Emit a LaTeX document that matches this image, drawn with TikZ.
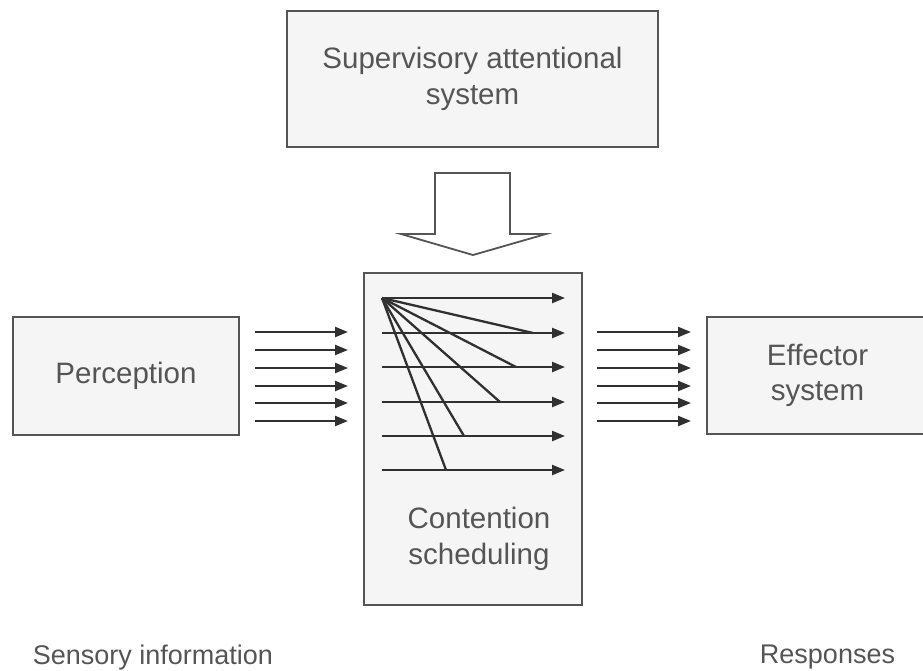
\documentclass[tikz,border=0pt]{standalone}
\usepackage{fontspec}
\setmainfont{Liberation Sans}
\usetikzlibrary{arrows.meta}

\definecolor{borda}{HTML}{555555}
\definecolor{fundo}{HTML}{F5F5F5}
\definecolor{texto}{HTML}{555555}
\definecolor{traco}{HTML}{303030}

\begin{document}
\begin{tikzpicture}[
		x=1pt, y=-1pt,
		boxes/.style={
			draw=borda,
			fill=fundo,
			rectangle,
			inner sep=0pt,
			align=center,
			line width=2.4pt,
			text=texto,
			font=\fontsize{29.5}{35.5}\selectfont
		},
		caption/.style={
			inner sep=0pt,
			align=center,
			text=texto,
			font=\fontsize{27}{32}\selectfont
		},
		arrow/.style={
			-{Triangle[length=13pt, width=10pt]},
			line width=2.3pt,
			draw=traco
		},
		branch/.style={
			-,
			line width=2.3pt,
			draw=traco
		}
		]
		
		\useasboundingbox (0,0) rectangle (923,670);
		
		\node[boxes, minimum width=371pt, minimum height=136pt] (SAS) at (472.5,79) {Supervisory attentional\\system};
		\node[boxes, minimum width=226pt, minimum height=118pt] (Perc) at (126,376) {Perception};
		\node[boxes, minimum width=221pt, minimum height=117pt] (Eff) at (817.5,375.5) {Effector\\system};
		\node[boxes, minimum width=218pt, minimum height=332pt] (CS) at (473,439) {};
		\node[boxes, draw=none, fill=none] (CSlabel) at (479,539) {Contention\\scheduling};
		
		\node[caption, anchor=base] (Sens) at (153,664) {Sensory information};
		\node[caption, anchor=base] (Resp) at (827.5,663) {Responses};
		
		%Seta larga
		\draw[draw=borda, fill=white, line width=1.8pt, line join=miter]
			(435,173) -- (510,173) -- (510,234) -- (546,234) -- (473,255)
			-- (401,234) -- (435,234) -- cycle;
		
		%Entradas
		\coordinate (in1a) at (255,332);   \coordinate (in1b) at (348,332);
		\coordinate (in2a) at (255,350);   \coordinate (in2b) at (348,350);
		\coordinate (in3a) at (255,368);   \coordinate (in3b) at (348,368);
		\coordinate (in4a) at (255,386);   \coordinate (in4b) at (348,386);
		\coordinate (in5a) at (255,403);   \coordinate (in5b) at (348,403);
		\coordinate (in6a) at (255,421);   \coordinate (in6b) at (348,421);
		
		\draw[arrow] (in1a) -- (in1b);
		\draw[arrow] (in2a) -- (in2b);
		\draw[arrow] (in3a) -- (in3b);
		\draw[arrow] (in4a) -- (in4b);
		\draw[arrow] (in5a) -- (in5b);
		\draw[arrow] (in6a) -- (in6b);
		
		%Saidas
		\coordinate (out1a) at (597,332);  \coordinate (out1b) at (691,332);
		\coordinate (out2a) at (597,350);  \coordinate (out2b) at (691,350);
		\coordinate (out3a) at (597,368);  \coordinate (out3b) at (691,368);
		\coordinate (out4a) at (597,386);  \coordinate (out4b) at (691,386);
		\coordinate (out5a) at (597,403);  \coordinate (out5b) at (691,403);
		\coordinate (out6a) at (597,421);  \coordinate (out6b) at (691,421);
		
		\draw[arrow] (out1a) -- (out1b);
		\draw[arrow] (out2a) -- (out2b);
		\draw[arrow] (out3a) -- (out3b);
		\draw[arrow] (out4a) -- (out4b);
		\draw[arrow] (out5a) -- (out5b);
		\draw[arrow] (out6a) -- (out6b);
		
		%Linhas internas
		\coordinate (fan) at (382,298);
		\coordinate (row1) at (565,298);
		\coordinate (row2a) at (382,333);  \coordinate (row2) at (565,333);
		\coordinate (row3a) at (382,367);  \coordinate (row3) at (565,367);
		\coordinate (row4a) at (382,402);  \coordinate (row4) at (565,402);
		\coordinate (row5a) at (382,436);  \coordinate (row5) at (565,436);
		\coordinate (row6a) at (382,470);  \coordinate (row6) at (565,470);
		
		\draw[arrow] (fan) -- (row1);
		\draw[arrow] (row2a) -- (row2);
		\draw[arrow] (row3a) -- (row3);
		\draw[arrow] (row4a) -- (row4);
		\draw[arrow] (row5a) -- (row5);
		\draw[arrow] (row6a) -- (row6);
		
		\coordinate (end2) at (533,333);
		\coordinate (end3) at (516,367);
		\coordinate (end4) at (500,402);
		\coordinate (end5) at (464,436);
		\coordinate (end6) at (446,470);
		
		\draw[branch] (fan) -- (end2);
		\draw[branch] (fan) -- (end3);
		\draw[branch] (fan) -- (end4);
		\draw[branch] (fan) -- (end5);
		\draw[branch] (fan) -- (end6);
		
	\end{tikzpicture}
\end{document}
